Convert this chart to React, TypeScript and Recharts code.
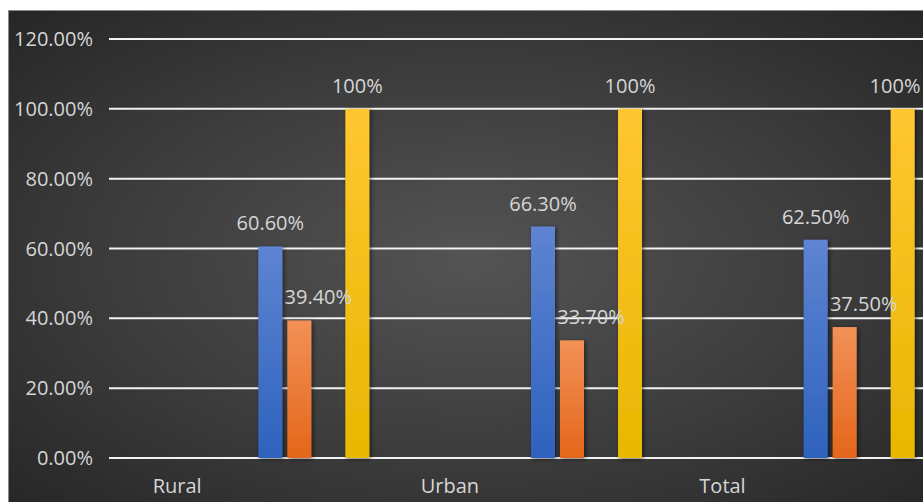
import { Bar, BarChart, CartesianGrid, LabelList, XAxis, YAxis } from "recharts";

const categories = ["Rural", "Urban", "Total"];
const blueValues = [0.606, 0.663, 0.625];
const orangeValues = [0.394, 0.337, 0.375];
const emptyValues = [null, null, null];
const yellowValues = [1, 1, 1];
const yTicks = [0, 0.2, 0.4, 0.6, 0.8, 1, 1.2];

const FONT = "'Open Sans', sans-serif";
const TEXT = "#d6d6d6";
const FS = 20;
const CHART_W = 930;
const RIGHT_LIMIT = 910; // labels are kept inside the visible frame

// each category gets a blank slot on its left for the label, bars sit in the slot to its right
const data = categories.flatMap((c, i) => [
  { key: c },
  {
    key: `${c}-bars`,
    blue: blueValues[i],
    orange: orangeValues[i],
    empty: emptyValues[i],
    yellow: yellowValues[i],
  },
]);

const pct2 = (v: number) => `${(v * 100).toFixed(2)}%`;
const pct0 = (v: number) => `${Math.round(v * 100)}%`;

const barShape = (id: string) => (props: any) => {
  const { x, y, width, height } = props;
  if (!height || height <= 0) return null;
  return (
    <rect x={x} y={y} width={width} height={height} fill={`url(#${id})`} filter="url(#barShadow)" />
  );
};

const barLabel = (dx: number, fmt: (v: number) => string) => (props: any) => {
  const { x, y, width, value } = props;
  if (value == null) return null;
  const text = fmt(value);
  const half = text.length * FS * 0.3;
  let cx = Number(x) + Number(width) / 2 + dx;
  if (cx + half > RIGHT_LIMIT) cx = RIGHT_LIMIT - half;
  return (
    <text x={cx} y={Number(y) - 16} textAnchor="middle" fill={TEXT} fontSize={FS} fontFamily={FONT}>
      {text}
    </text>
  );
};

export default function App() {
  return (
    <div
      style={{
        position: "fixed",
        left: 0,
        top: 0,
        width: 923,
        height: 502,
        overflow: "hidden",
        background: "#fff",
      }}
    >
      <div
        style={{
          position: "absolute",
          left: 8,
          top: 10,
          width: CHART_W,
          height: 500,
          borderLeft: "1px solid #8a8a8a",
          borderTop: "1px solid #8a8a8a",
          background: "radial-gradient(ellipse at 50% 50%, #545454 0%, #3c3c3c 55%, #262626 100%)",
        }}
      >
        <BarChart
          width={CHART_W}
          height={491}
          data={data}
          margin={{ top: 28, right: 12, bottom: 0, left: 0 }}
          barSize={24}
          barGap={5}
        >
          <defs>
            <linearGradient id="gBlue" x1="0" y1="0" x2="0" y2="1">
              <stop offset="0%" stopColor="#5e84d2" />
              <stop offset="100%" stopColor="#2e62bd" />
            </linearGradient>
            <linearGradient id="gOrange" x1="0" y1="0" x2="0" y2="1">
              <stop offset="0%" stopColor="#f29157" />
              <stop offset="100%" stopColor="#e4661a" />
            </linearGradient>
            <linearGradient id="gYellow" x1="0" y1="0" x2="0" y2="1">
              <stop offset="0%" stopColor="#ffc631" />
              <stop offset="100%" stopColor="#e8b700" />
            </linearGradient>
            <filter id="barShadow" x="-40%" y="-10%" width="180%" height="120%">
              <feDropShadow dx="1.5" dy="1" stdDeviation="2" floodColor="#000" floodOpacity="0.55" />
            </filter>
          </defs>
          <CartesianGrid vertical={false} stroke="#f2f2f2" strokeWidth={2} />
          <XAxis
            dataKey="key"
            height={44}
            axisLine={false}
            tickLine={false}
            tickSize={0}
            tickMargin={21}
            interval={0}
            tickFormatter={(v: string) => (categories.includes(v) ? v : "")}
            tick={{ fill: TEXT, fontSize: FS, fontFamily: FONT }}
          />
          <YAxis
            width={100}
            domain={[0, 1.2]}
            ticks={yTicks}
            axisLine={false}
            tickLine={false}
            tickSize={0}
            tickMargin={16}
            tickFormatter={pct2}
            tick={{ fill: TEXT, fontSize: FS, fontFamily: FONT }}
          />
          <Bar dataKey="blue" shape={barShape("gBlue")} isAnimationActive={false}>
            <LabelList dataKey="blue" content={barLabel(0, pct2)} />
          </Bar>
          <Bar dataKey="orange" shape={barShape("gOrange")} isAnimationActive={false}>
            <LabelList dataKey="orange" content={barLabel(19, pct2)} />
          </Bar>
          <Bar dataKey="empty" fill="#a5a5a5" isAnimationActive={false} />
          <Bar dataKey="yellow" shape={barShape("gYellow")} isAnimationActive={false}>
            <LabelList dataKey="yellow" content={barLabel(0, pct0)} />
          </Bar>
        </BarChart>
      </div>
    </div>
  );
}
